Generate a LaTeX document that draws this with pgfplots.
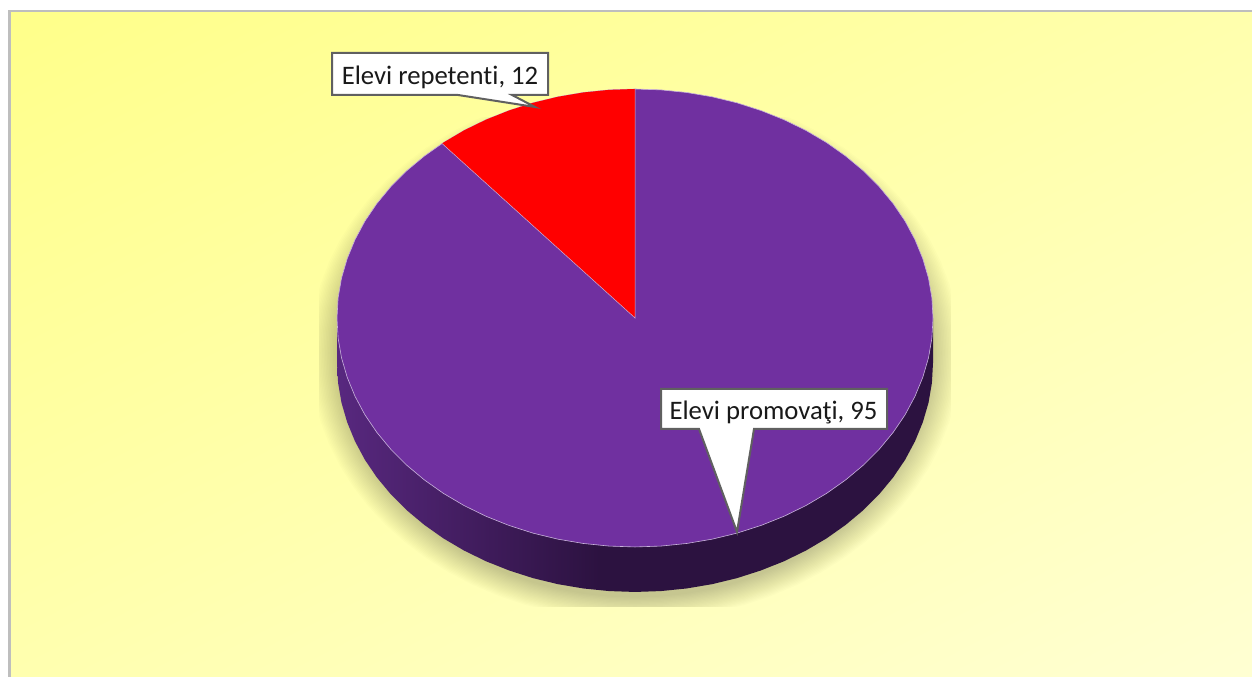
\documentclass[border=0pt]{standalone}
\usepackage{fontspec}
\setmainfont[Ligatures=NoCommon]{Carlito}
\usepackage{pgfplots}
\usepackage{pgfplotstable}
\pgfplotsset{compat=1.18}

\definecolor{piepurple}{HTML}{7030A0}
\definecolor{piered}{HTML}{FF0000}
\definecolor{edgeline}{HTML}{C9B3DC}
\definecolor{boxline}{HTML}{606060}
\definecolor{wallA}{HTML}{58287F}
\definecolor{wallB}{HTML}{2C1240}
\definecolor{bgA}{HTML}{FFFF7F}
\definecolor{bgB}{HTML}{FFFFDD}
\definecolor{frameline}{HTML}{BEBEBE}
\pgfdeclarehorizontalshading{wall}{100bp}{color(0bp)=(wallA);color(25bp)=(wallA);color(47bp)=(wallB);color(75bp)=(wallB);color(100bp)=(wallB)}
\pgfdeclareverticalshading{bgfade}{100bp}{color(0bp)=(bgB);color(6.5bp)=(bgB);color(93.5bp)=(bgA);color(100bp)=(bgA)}

% pie rim, clockwise from the top, offsets in px from the centre
\pgfplotstableread{
x y
0 229
26.0 228.1
51.7 225.5
77.1 221.2
101.9 215.2
125.9 207.5
149.0 198.3
170.9 187.6
191.6 175.4
210.7 161.9
228.3 147.2
244.1 131.4
258.1 114.5
270.1 96.8
280.0 78.3
287.8 59.3
293.5 39.8
296.9 20.0
298 0
296.9 -20.0
293.5 -39.8
287.8 -59.3
280.0 -78.3
270.1 -96.8
258.1 -114.5
244.1 -131.4
228.3 -147.2
210.7 -161.9
191.6 -175.4
170.9 -187.6
149.0 -198.3
125.9 -207.5
101.9 -215.2
77.1 -221.2
51.7 -225.5
26.0 -228.1
0 -229
-26.0 -228.1
-51.7 -225.5
-77.1 -221.2
-101.9 -215.2
-125.9 -207.5
-149.0 -198.3
-170.9 -187.6
-191.6 -175.4
-210.7 -161.9
-228.3 -147.2
-244.1 -131.4
-258.1 -114.5
-270.1 -96.8
-280.0 -78.3
-287.8 -59.3
-293.5 -39.8
-296.9 -20.0
-298 0
-296.9 20.0
-293.5 39.8
-287.8 59.3
-280.0 78.3
-270.1 96.8
-258.1 114.5
-244.1 131.4
-228.3 147.2
-210.7 161.9
-191.6 175.4
-170.9 187.6
-149.0 198.3
-125.9 207.5
-101.9 215.2
-77.1 221.2
-51.7 225.5
-26.0 228.1
}\rimtable

% Elevi repetenti, 12 of 107: 40.4 degrees left of the top
\pgfplotstableread{
x y
0 0
-193.0 174.5
-191.6 175.4
-170.9 187.6
-149.0 198.3
-125.9 207.5
-101.9 215.2
-77.1 221.2
-51.7 225.5
-26.0 228.1
0 229
}\redtable

% side of the pie, 45 px deep
\pgfplotstableread{
x y
298 0
298 -45
296.9 -65.0
293.5 -84.8
287.8 -104.3
280.0 -123.3
270.1 -141.8
258.1 -159.5
244.1 -176.4
228.3 -192.2
210.7 -206.9
191.6 -220.4
170.9 -232.6
149.0 -243.3
125.9 -252.5
101.9 -260.2
77.1 -266.2
51.7 -270.5
26.0 -273.1
0 -274
-26.0 -273.1
-51.7 -270.5
-77.1 -266.2
-101.9 -260.2
-125.9 -252.5
-149.0 -243.3
-170.9 -232.6
-191.6 -220.4
-210.7 -206.9
-228.3 -192.2
-244.1 -176.4
-258.1 -159.5
-270.1 -141.8
-280.0 -123.3
-287.8 -104.3
-293.5 -84.8
-296.9 -65.0
-298 -45
-298 0
}\walltable

\begin{document}
\begin{tikzpicture}
\begin{axis}[
  scale only axis,
  width=1252pt,height=677pt,
  xmin=-635,xmax=617,
  ymin=-359,ymax=318,
  hide axis,
]
% chart area
\fill[white] (axis cs:-635,-359) rectangle (axis cs:617,318);
\fill[frameline] (axis cs:-627,-359) rectangle (axis cs:617,308);
\shade[shading=bgfade,shading angle=27]
  (axis cs:-624,-359) rectangle (axis cs:617,305);

% soft shadow, cut off at its box
\begin{scope}
\clip (axis cs:-316,-289) rectangle (axis cs:316,200);
\pgfplotsinvokeforeach{0.96,0.965,0.97,0.975,0.98,0.985,0.99,0.995,1.00,1.005,1.01,1.015,1.02,1.025,1.03,1.035,1.04,1.045,1.05}{
  \addplot[fill=black,fill opacity=0.013,draw=none,forget plot]
    table[x expr=\thisrow{x}*#1*1.04,y expr=\thisrow{y}*#1*1.113-35] {\rimtable} --cycle;
}
\end{scope}

% pie
\addplot[shade,shading=wall,draw=none,forget plot] table {\walltable} --cycle;
\addplot[fill=piepurple,draw=edgeline,line width=0.6pt,forget plot] table {\rimtable} --cycle;
\addplot[fill=piered,draw=none,forget plot] table {\redtable} --cycle;
\addplot[draw=edgeline,line width=0.5pt,forget plot] coordinates {(-193.0,174.5) (0,0) (0,229)};

% callouts
\addplot[fill=white,draw=boxline,line width=2pt,forget plot] coordinates {
  (-303,265) (-87,265) (-87,223) (-123,223) (-100,211) (-177,223) (-303,223)} --cycle;
\addplot[fill=white,draw=boxline,line width=2pt,forget plot] coordinates {
  (26,-71) (252,-71) (252,-111) (119,-111) (102,-214) (64,-111) (26,-111)} --cycle;
\node[font=\fontsize{26.7}{30}\selectfont,text=black!90] at (axis cs:-195,241) {Elevi repetenti, 12};
\node[font=\fontsize{26.7}{30}\selectfont,text=black!90] at (axis cs:138.5,-95) {Elevi promovaţi, 95};
\end{axis}
\end{tikzpicture}
\end{document}
